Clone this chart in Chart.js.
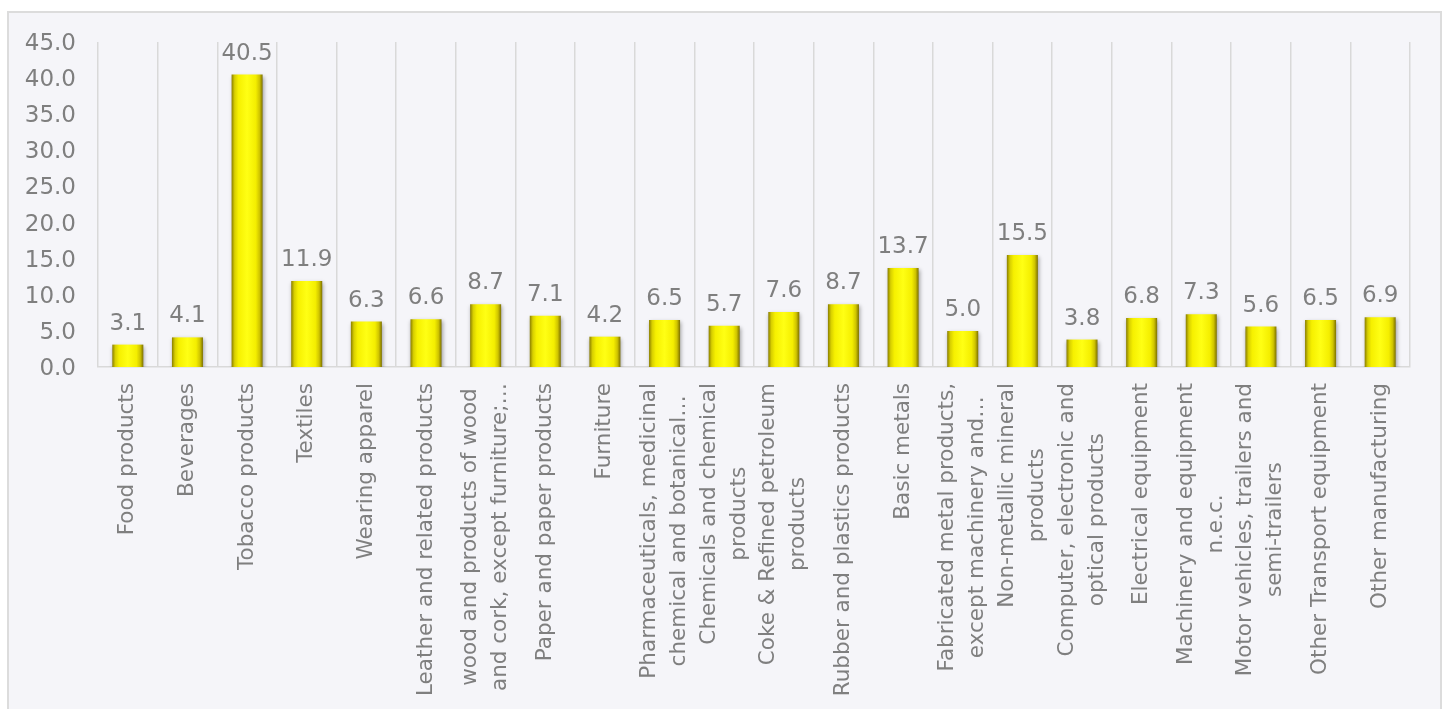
<!DOCTYPE html>
<html>
<head>
<meta charset="utf-8">
<script src="https://cdn.jsdelivr.net/npm/chart.js@4/dist/chart.umd.min.js"></script>
<style>
  html, body { margin: 0; padding: 0; background: #ffffff; }
  #frame { position: absolute; left: 7px; top: 11px; width: 1431px; height: 720px;
           border: 2px solid #dcdcdc; background: #f5f5f9; }
  #wrap { position: absolute; left: 0; top: 0; width: 1444px; height: 709px; }
</style>
</head>
<body>
<div id="frame"></div>
<div id="wrap"><canvas id="c" width="1444" height="709"></canvas></div>
<script>
const categories = [
  ["Food products"],
  ["Beverages"],
  ["Tobacco products"],
  ["Textiles"],
  ["Wearing apparel"],
  ["Leather and related products"],
  ["wood and products of wood", "and cork, except furniture;…"],
  ["Paper and paper products"],
  ["Furniture"],
  ["Pharmaceuticals, medicinal", "chemical and botanical…"],
  ["Chemicals and chemical", "products"],
  ["Coke & Refined petroleum", "products"],
  ["Rubber and plastics products"],
  ["Basic metals"],
  ["Fabricated metal products,", "except machinery and…"],
  ["Non-metallic mineral", "products"],
  ["Computer, electronic and", "optical products"],
  ["Electrical equipment"],
  ["Machinery and equipment", "n.e.c."],
  ["Motor vehicles, trailers and", "semi-trailers"],
  ["Other Transport equipment"],
  ["Other manufacturing"]
];
const values = [3.1, 4.1, 40.5, 11.9, 6.3, 6.6, 8.7, 7.1, 4.2, 6.5, 5.7, 7.6, 8.7, 13.7, 5.0, 15.5, 3.8, 6.8, 7.3, 5.6, 6.5, 6.9];
const yTicks = [0, 5, 10, 15, 20, 25, 30, 35, 40, 45];

const FONT = "'DejaVu Sans', Verdana, sans-serif";
const GRAY = "#7f7f7f";

function barGradient(c) {
  const chart = c.chart;
  const xs = chart.scales.x;
  if (!xs || c.type !== 'data' || !chart.chartArea) return "#f2ea00";
  const cx = xs.getPixelForValue(c.dataIndex);
  const half = (xs.width / categories.length) * 0.52 / 2;
  const g = chart.ctx.createLinearGradient(cx - half, 0, cx + half, 0);
  g.addColorStop(0.00, "#8a7e00");
  g.addColorStop(0.10, "#d8cf00");
  g.addColorStop(0.22, "#f6f000");
  g.addColorStop(0.50, "#ffff14");
  g.addColorStop(0.78, "#f4ee00");
  g.addColorStop(0.90, "#cfc400");
  g.addColorStop(1.00, "#7c7000");
  return g;
}

const shadowPlugin = {
  id: 'shadow',
  beforeDatasetsDraw(chart) {
    const ctx = chart.ctx;
    ctx.save();
    ctx.shadowColor = "rgba(0,0,0,0.35)";
    ctx.shadowBlur = 4;
    ctx.shadowOffsetX = 1;
    ctx.shadowOffsetY = 2;
  },
  afterDatasetsDraw(chart) {
    const ctx = chart.ctx;
    ctx.restore();
    const meta = chart.getDatasetMeta(0);
    ctx.save();
    ctx.font = "23px " + FONT;
    ctx.fillStyle = GRAY;
    ctx.textAlign = "center";
    ctx.textBaseline = "alphabetic";
    meta.data.forEach((el, i) => {
      ctx.fillText(values[i].toFixed(1), el.x, el.y - 15);
    });
    ctx.restore();
  }
};

const xLabelPlugin = {
  id: 'xlabels',
  afterDraw(chart) {
    const xs = chart.scales.x;
    const ctx = chart.ctx;
    ctx.save();
    ctx.font = "21.5px " + FONT;
    ctx.fillStyle = GRAY;
    ctx.textBaseline = "middle";
    ctx.textAlign = "center";
    const top = xs.top + 16;
    const lh = 30;
    categories.forEach((lines, i) => {
      const x = xs.getPixelForTick(i);
      let maxW = 0;
      lines.forEach(l => { maxW = Math.max(maxW, ctx.measureText(l).width); });
      const n = lines.length;
      lines.forEach((l, j) => {
        const lx = x + (j - (n - 1) / 2) * lh;
        ctx.save();
        ctx.translate(lx, top + maxW / 2);
        ctx.rotate(-Math.PI / 2);
        ctx.fillText(l, 0, 0);
        ctx.restore();
      });
    });
    ctx.restore();
  }
};

new Chart(document.getElementById('c'), {
  type: 'bar',
  data: {
    labels: categories,
    datasets: [{
      data: values,
      backgroundColor: barGradient,
      borderWidth: 0,
      barPercentage: 0.52,
      categoryPercentage: 1.0
    }]
  },
  options: {
    responsive: false,
    animation: false,
    devicePixelRatio: 1,
    layout: { padding: { left: 0, right: 34, top: 42, bottom: 0 } },
    plugins: { legend: { display: false }, tooltip: { enabled: false } },
    scales: {
      x: {
        offset: true,
        grid: { display: true, offset: true, color: "#d9d9d9", lineWidth: 1.5, drawTicks: false },
        border: { display: true, color: "#d9d9d9", width: 1.5 },
        ticks: { display: false },
        afterFit(s) { s.height = 342; }
      },
      y: {
        min: 0, max: 45,
        afterBuildTicks(s) { s.ticks = yTicks.map(v => ({ value: v })); },
        grid: { display: false, drawTicks: false },
        border: { display: false },
        ticks: {
          color: GRAY,
          font: { family: FONT, size: 23 },
          padding: 22,
          labelOffset: 2,
          callback: v => Number(v).toFixed(1)
        },
        afterFit(s) { s.width = 98; }
      }
    }
  },
  plugins: [shadowPlugin, xLabelPlugin]
});
</script>
</body>
</html>
